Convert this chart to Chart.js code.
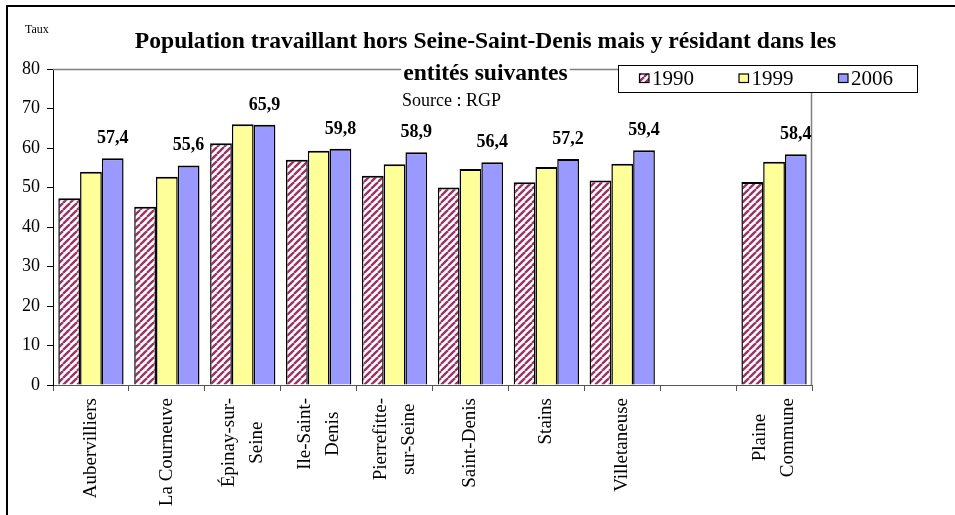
<!DOCTYPE html>
<html><head><meta charset="utf-8">
<script src="https://cdn.jsdelivr.net/npm/chart.js@4"></script>
<style>html,body{margin:0;padding:0;background:#fff}canvas{display:block}</style>
</head><body>
<canvas id="c" width="955" height="515"></canvas>
<script>
// ---- data ----
const categories = ['Aubervilliers', 'La Courneuve', ['Épinay-sur-', 'Seine'], ['Ile-Saint-', 'Denis'],
  ['Pierrefitte-', 'sur-Seine'], 'Saint-Denis', 'Stains', 'Villetaneuse', '', ['Plaine', 'Commune']];
const seriesLabels = ['1990', '1999', '2006'];
const values1990 = [47.3, 45.1, 61.2, 57.0, 53.0, 50.0, 51.3, 51.8, null, 51.4];
const values1999 = [54.0, 52.7, 66.0, 59.3, 55.9, 54.7, 55.2, 56.0, null, 56.5];
const values2006 = [57.4, 55.6, 65.9, 59.8, 58.9, 56.4, 57.2, 59.4, null, 58.4];
const yTicks = [0, 10, 20, 30, 40, 50, 60, 70, 80];
const titleLines = ['Population travaillant hors Seine-Saint-Denis mais y résidant dans les', 'entités suivantes'];
const sourceText = 'Source : RGP';
const yAxisTitle = 'Taux';

const SERIF = '"Liberation Serif", "Times New Roman", Times, serif';
const canvas = document.getElementById('c');
const ctx0 = canvas.getContext('2d');

function makeHatch() {
  const s = 7;
  const c = document.createElement('canvas'); c.width = s; c.height = s;
  const g = c.getContext('2d');
  g.fillStyle = '#fff'; g.fillRect(0, 0, s, s);
  g.strokeStyle = '#993366'; g.lineWidth = 2.4;
  for (let k = -1; k <= 1; k++) { g.beginPath(); g.moveTo(k * s, s); g.lineTo(k * s + s, 0); g.stroke(); }
  return ctx0.createPattern(c, 'repeat');
}
const hatch = makeHatch();

const decor = {
  id: 'decor',
  beforeDraw(chart) {
    const ctx = chart.ctx; ctx.save();
    ctx.fillStyle = '#fff'; ctx.fillRect(0, 0, chart.width, chart.height);
    ctx.strokeStyle = '#000'; ctx.lineWidth = 2;
    ctx.beginPath(); ctx.moveTo(7, 515); ctx.lineTo(7, 6); ctx.lineTo(955, 6); ctx.stroke();
    ctx.restore();
  },
  beforeDatasetsDraw(chart) {
    const a = chart.chartArea, ctx = chart.ctx; ctx.save();
    ctx.strokeStyle = '#808080'; ctx.lineWidth = 1.5;
    ctx.beginPath(); ctx.moveTo(a.left, a.top + 0.5); ctx.lineTo(a.right - 0.5, a.top + 0.5); ctx.lineTo(a.right - 0.5, a.bottom); ctx.stroke();
    ctx.restore();
  },
  afterDatasetsDraw(chart) {
    const ctx = chart.ctx; ctx.save();
    ctx.font = 'bold 18px ' + SERIF; ctx.fillStyle = '#000';
    ctx.textAlign = 'center'; ctx.textBaseline = 'alphabetic';
    const meta = chart.getDatasetMeta(2);
    chart.data.datasets[2].data.forEach((v, i) => {
      if (v == null) return;
      const el = meta.data[i];
      ctx.fillText(v.toFixed(1).replace('.', ','), el.x, el.y - 15);
    });
    ctx.restore();
  },
  afterDraw(chart) {
    const ctx = chart.ctx; ctx.save();
    // x category labels
    const xs = chart.scales.x;
    ctx.font = '19px ' + SERIF; ctx.fillStyle = '#000';
    const y0 = xs.top + 13, lh = 28;
    chart.data.labels.forEach((lab, i) => {
      const lines = Array.isArray(lab) ? lab : [lab];
      if (!lines.join('')) return;
      const cx = xs.getPixelForValue(i);
      const maxW = Math.max(...lines.map(l => ctx.measureText(l).width));
      lines.forEach((l, j) => {
        ctx.save();
        ctx.translate(cx + (j - (lines.length - 1) / 2) * lh, y0 + maxW / 2);
        ctx.rotate(-Math.PI / 2);
        ctx.textAlign = 'center'; ctx.textBaseline = 'middle';
        ctx.fillText(l, 0, 0);
        ctx.restore();
      });
    });
    // title
    ctx.font = 'bold 23.6px ' + SERIF; ctx.textAlign = 'center'; ctx.textBaseline = 'alphabetic';
    ctx.fillText(titleLines[0], 485.5, 48);
    const w2 = ctx.measureText(titleLines[1]).width;
    ctx.fillStyle = '#fff'; ctx.fillRect(485.5 - w2 / 2 - 2, 62, w2 + 4, 24);
    ctx.fillStyle = '#000'; ctx.fillText(titleLines[1], 485.5, 79.5);
    // source
    ctx.font = '18px ' + SERIF; ctx.textAlign = 'left';
    ctx.fillText(sourceText, 402, 106);
    // axis title
    ctx.font = '12px ' + SERIF;
    ctx.fillText(yAxisTitle, 25, 33);
    // legend
    const bx = 618, by = 65, bw = 300, bh = 28;
    ctx.fillStyle = '#fff'; ctx.fillRect(bx, by, bw, bh);
    ctx.strokeStyle = '#000'; ctx.lineWidth = 1; ctx.strokeRect(bx + 0.5, by + 0.5, bw - 1, bh - 1);
    ctx.font = '21px ' + SERIF;
    chart.data.datasets.forEach((ds, i) => {
      const x = 639 + i * 99.5;
      ctx.fillStyle = ds.backgroundColor; ctx.fillRect(x, 73.5, 10, 9);
      ctx.strokeStyle = '#000'; ctx.lineWidth = 1.2; ctx.strokeRect(x + 0.5, 74, 9.5, 8.5);
      ctx.fillStyle = '#000'; ctx.textAlign = 'left';
      ctx.fillText(ds.label, x + 13, 85);
    });
    ctx.restore();
  }
};

const barCommon = { borderColor: '#000', borderWidth: { top: 2, left: 1.5, right: 1.5, bottom: 0 },
  categoryPercentage: 0.86, barPercentage: 1 };

new Chart(ctx0, {
  type: 'bar',
  data: {
    labels: categories,
    datasets: [
      Object.assign({ label: seriesLabels[0], data: values1990, backgroundColor: hatch }, barCommon),
      Object.assign({ label: seriesLabels[1], data: values1999, backgroundColor: '#FFFF99' }, barCommon),
      Object.assign({ label: seriesLabels[2], data: values2006, backgroundColor: '#9999FF' }, barCommon)
    ]
  },
  options: {
    responsive: false, animation: false, devicePixelRatio: 1,
    layout: { padding: { top: 69, right: 143, left: 0, bottom: 0 } },
    plugins: { legend: { display: false }, title: { display: false }, tooltip: { enabled: false } },
    scales: {
      x: {
        grid: { display: true, drawOnChartArea: false, drawTicks: true, tickLength: 6, color: '#555', offset: true },
        border: { display: true, color: '#555', width: 1 },
        ticks: { display: false },
        afterFit(s) { s.height = 130; }
      },
      y: {
        min: 0, max: 80,
        afterBuildTicks(s) { s.ticks = yTicks.map(v => ({ value: v })); },
        grid: { drawOnChartArea: false, drawTicks: true, tickLength: 6, color: '#000' },
        border: { display: true, color: '#000', width: 1 },
        ticks: { font: { family: SERIF, size: 18 }, color: '#000', padding: 7 },
        afterFit(s) { s.width = 53; }
      }
    }
  },
  plugins: [decor]
});
</script>
</body></html>
